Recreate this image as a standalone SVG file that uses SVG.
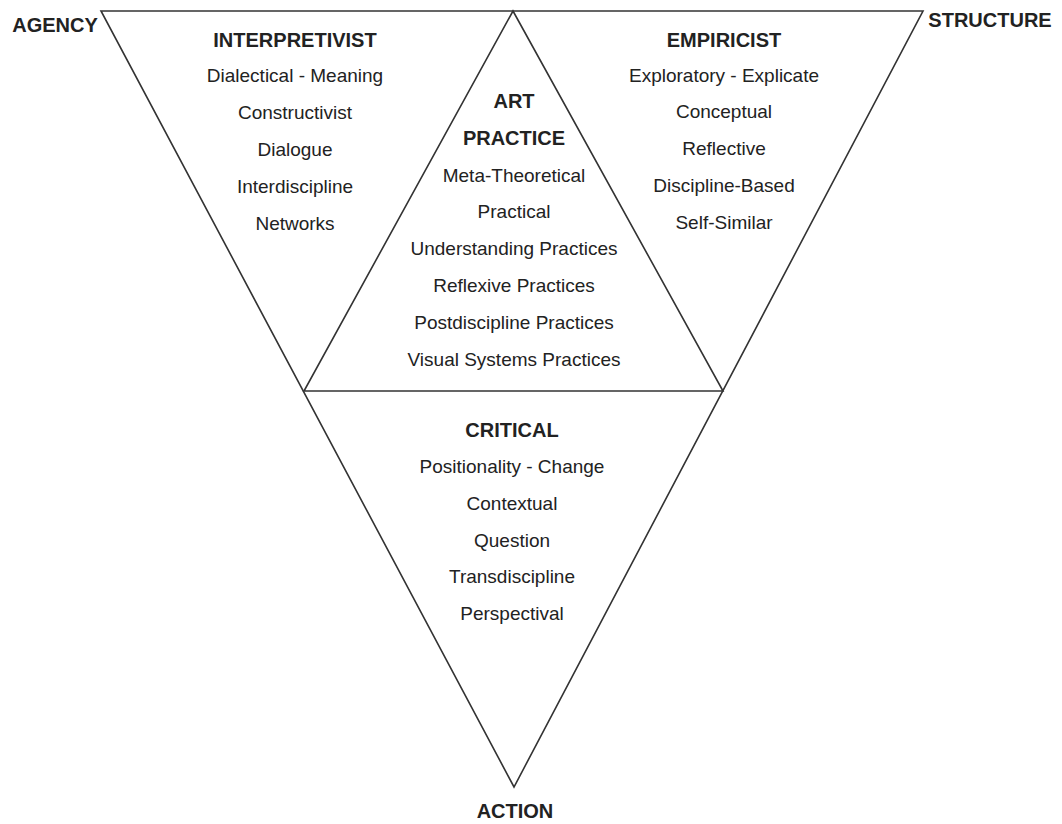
<svg xmlns="http://www.w3.org/2000/svg" width="1062" height="824" viewBox="0 0 1062 824">
<style>
.ln{fill:none;stroke:#333;stroke-width:1.6;stroke-linejoin:miter}
text{font-family:"Liberation Sans",Arial,sans-serif;fill:#222;text-anchor:middle}
.t{font-size:19px}
.h{font-size:20px;font-weight:bold}
</style>
<rect width="1062" height="824" fill="#fff"/>
<g id="connectors">
<path class="ln" d="M101,11 L923,11 L514,787 Z"/>
<path class="ln" d="M513,11 L304,391 L723,391 Z"/>
</g>
<g id="agency"><text class="h" x="55" y="32">AGENCY</text></g>
<g id="structure"><text class="h" x="990" y="27">STRUCTURE</text></g>
<g id="action"><text class="h" x="515" y="818">ACTION</text></g>
<g id="interpretivist">
<text class="h" x="295" y="47">INTERPRETIVIST</text>
<text class="t" x="295" y="82">Dialectical - Meaning</text>
<text class="t" x="295" y="119">Constructivist</text>
<text class="t" x="295" y="156">Dialogue</text>
<text class="t" x="295" y="193">Interdiscipline</text>
<text class="t" x="295" y="230">Networks</text>
</g>
<g id="empiricist">
<text class="h" x="724" y="47">EMPIRICIST</text>
<text class="t" x="724" y="82">Exploratory - Explicate</text>
<text class="t" x="724" y="118">Conceptual</text>
<text class="t" x="724" y="155">Reflective</text>
<text class="t" x="724" y="192">Discipline-Based</text>
<text class="t" x="724" y="229">Self-Similar</text>
</g>
<g id="art-practice">
<text class="h" x="514" y="108">ART</text>
<text class="h" x="514" y="145">PRACTICE</text>
<text class="t" x="514" y="182">Meta-Theoretical</text>
<text class="t" x="514" y="218">Practical</text>
<text class="t" x="514" y="255">Understanding Practices</text>
<text class="t" x="514" y="292">Reflexive Practices</text>
<text class="t" x="514" y="329">Postdiscipline Practices</text>
<text class="t" x="514" y="366">Visual Systems Practices</text>
</g>
<g id="critical">
<text class="h" x="512" y="437">CRITICAL</text>
<text class="t" x="512" y="473">Positionality - Change</text>
<text class="t" x="512" y="510">Contextual</text>
<text class="t" x="512" y="547">Question</text>
<text class="t" x="512" y="583">Transdiscipline</text>
<text class="t" x="512" y="620">Perspectival</text>
</g>
</svg>
